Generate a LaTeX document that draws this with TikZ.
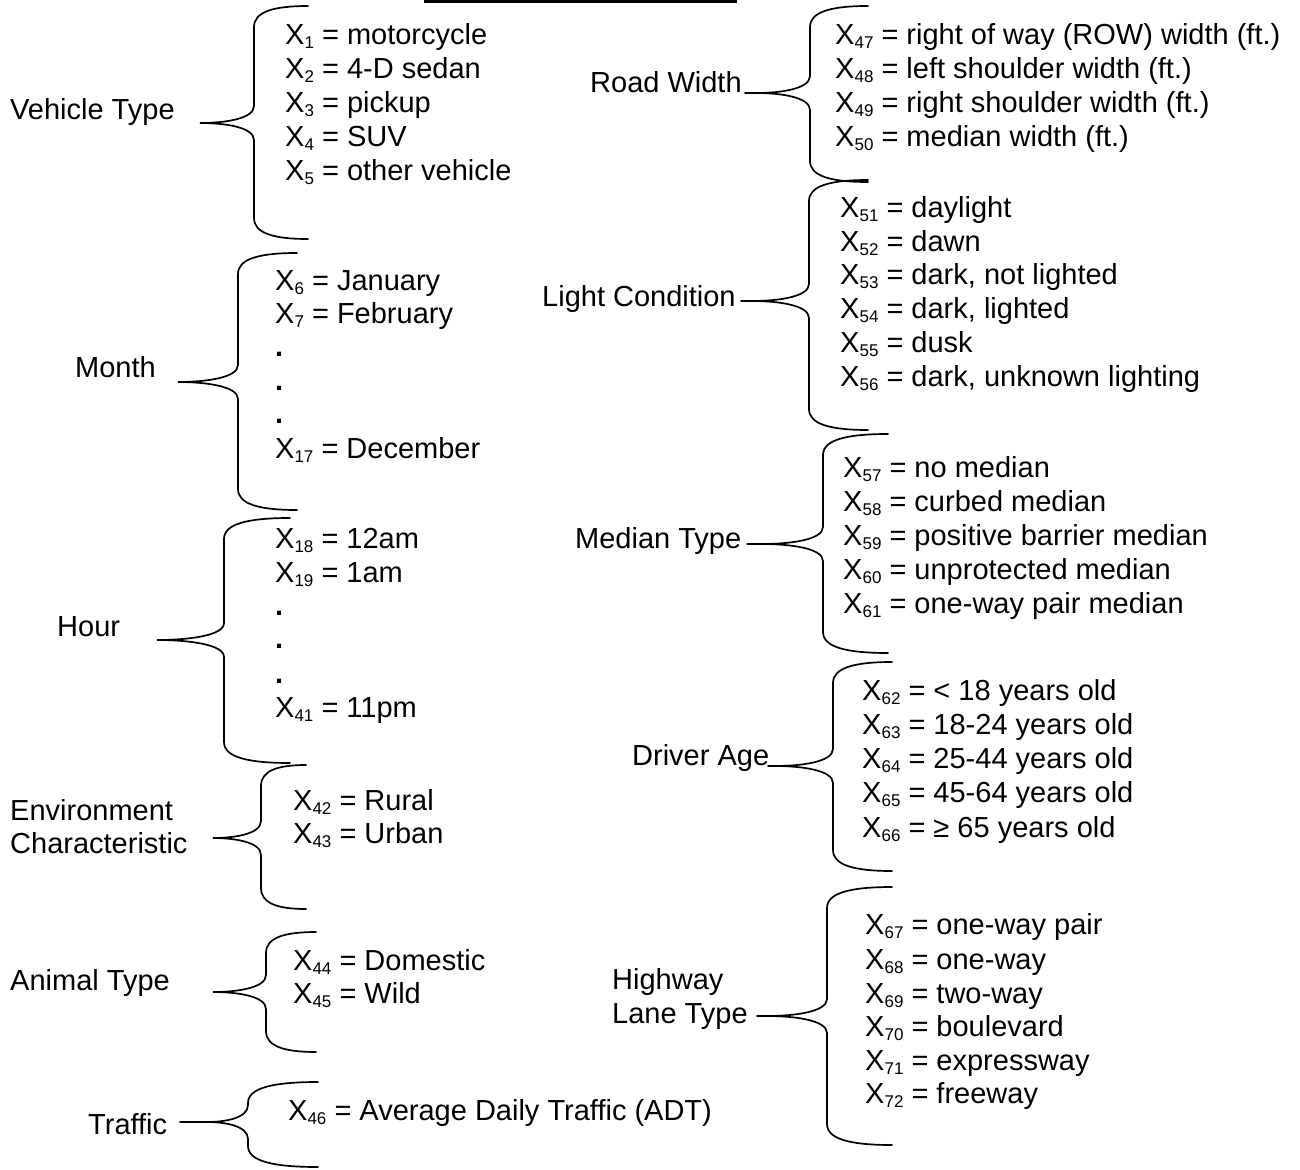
\documentclass[tikz,border=0pt]{standalone}
\usepackage{fontspec}
\setmainfont{Liberation Sans}
\newcommand\sbs[1]{\raisebox{-4pt}{\fontsize{17}{17}\selectfont #1}}
\newcommand\mybrace[7]{% tip x, mid y, vertical x, top y, bottom y, end x, name
  \coordinate (#7) at (#1,#2);
  \draw[brc] (#6,#4) .. controls ({#3+0.35*(#6-#3)},#4) and (#3,#4+6) .. (#3,#4+21)
    -- (#3,#2-17) .. controls (#3,#2-4) and ({#1+0.45*(#3-#1)},#2) .. (#7)
    .. controls ({#1+0.45*(#3-#1)},#2) and (#3,#2+4) .. (#3,#2+17)
    -- (#3,#5-21) .. controls (#3,#5-6) and ({#3+0.35*(#6-#3)},#5) .. (#6,#5);}
\tikzset{
  brc/.style={line width=1.7pt, line cap=round},
  itm/.style={anchor=base west, inner sep=0pt, font=\fontsize{29}{34}\selectfont},
  lab/.style={anchor=base west, inner sep=0pt, font=\fontsize{29}{34}\selectfont},
}
\begin{document}
\begin{tikzpicture}[x=1pt,y=-1pt]
\fill[white] (0,0) rectangle (1300,1169);
\useasboundingbox (0,0) rectangle (1300,1169);
% top rule
\coordinate (ra) at (424,1.5);
\coordinate (rb) at (737,1.5);
\draw[line width=3.2pt] (ra) -- (rb);

% ---------- left column ----------
\node[lab] (vt) at (10,120) {Vehicle Type};
\mybrace{200}{123}{254}{6}{239}{308}{vttip}
\node[itm] (x1) at (285,45) {X\sbs{1} = motorcycle};
\node[itm] (x2) at (285,79) {X\sbs{2} = 4-D sedan};
\node[itm] (x3) at (285,113) {X\sbs{3} = pickup};
\node[itm] (x4) at (285,147) {X\sbs{4} = SUV};
\node[itm] (x5) at (285,181) {X\sbs{5} = other vehicle};

\node[lab] (mo) at (75,377) {Month};
\mybrace{178}{382}{238}{253}{510}{297}{motip}
\node[itm] (x6) at (275,290) {X\sbs{6} = January};
\node[itm] (x7) at (275,323) {X\sbs{7} = February};
\node[itm] (md1) at (275,356) {\textbf{.}};
\node[itm] (md2) at (275,390) {\textbf{.}};
\node[itm] (md3) at (275,423) {\textbf{.}};
\node[itm] (x17) at (275,458) {X\sbs{17} = December};

\node[lab] (ho) at (57,636) {Hour};
\mybrace{157}{640}{224}{518}{763}{290}{hotip}
\node[itm] (x18) at (275,548) {X\sbs{18} = 12am};
\node[itm] (x19) at (275,582) {X\sbs{19} = 1am};
\node[itm] (hd1) at (275,615) {\textbf{.}};
\node[itm] (hd2) at (275,648) {\textbf{.}};
\node[itm] (hd3) at (275,683) {\textbf{.}};
\node[itm] (x41) at (275,717) {X\sbs{41} = 11pm};

\node[lab] (ec1) at (10,820) {Environment};
\node[lab] (ec2) at (10,853) {Characteristic};
\mybrace{213}{838}{261}{765}{909}{306}{ectip}
\node[itm] (x42) at (293,810) {X\sbs{42} = Rural};
\node[itm] (x43) at (293,843) {X\sbs{43} = Urban};

\node[lab] (at) at (10,990) {Animal Type};
\mybrace{213}{992}{266}{932}{1052}{316}{attip}
\node[itm] (x44) at (293,970) {X\sbs{44} = Domestic};
\node[itm] (x45) at (293,1003) {X\sbs{45} = Wild};

\node[lab] (tr) at (88,1134) {Traffic};
\mybrace{207}{1122}{248}{1082}{1167}{318}{trtip}
\coordinate (trt) at (180,1122);
\draw[brc] (trt) -- (trtip);
\node[itm] (x46) at (288,1120) {X\sbs{46} = Average Daily Traffic (ADT)};

% ---------- right column ----------
\node[lab] (rw) at (590,93) {Road Width};
\mybrace{756}{93}{810}{6}{182}{868}{rwtip}
\coordinate (rwt) at (745,93);
\draw[brc] (rwt) -- (rwtip);
\node[itm] (x47) at (835,45) {X\sbs{47} = right of way (ROW) width (ft.)};
\node[itm] (x48) at (835,79) {X\sbs{48} = left shoulder width (ft.)};
\node[itm] (x49) at (835,113) {X\sbs{49} = right shoulder width (ft.)};
\node[itm] (x50) at (835,147) {X\sbs{50} = median width (ft.)};

\node[lab] (lc) at (542,306) {Light Condition};
\mybrace{752}{301}{809}{180}{430}{868}{lctip}
\coordinate (lct) at (741,301);
\draw[brc] (lct) -- (lctip);
\node[itm] (x51) at (840,217) {X\sbs{51} = daylight};
\node[itm] (x52) at (840,251) {X\sbs{52} = dawn};
\node[itm] (x53) at (840,284) {X\sbs{53} = dark, not lighted};
\node[itm] (x54) at (840,318) {X\sbs{54} = dark, lighted};
\node[itm] (x55) at (840,352) {X\sbs{55} = dusk};
\node[itm] (x56) at (840,386) {X\sbs{56} = dark, unknown lighting};

\node[lab] (mt) at (575,548) {Median Type};
\mybrace{762}{544}{823}{434}{653}{888}{mttip}
\coordinate (mtt) at (747,544);
\draw[brc] (mtt) -- (mttip);
\node[itm] (x57) at (843,477) {X\sbs{57} = no median};
\node[itm] (x58) at (843,511) {X\sbs{58} = curbed median};
\node[itm] (x59) at (843,545) {X\sbs{59} = positive barrier median};
\node[itm] (x60) at (843,579) {X\sbs{60} = unprotected median};
\node[itm] (x61) at (843,613) {X\sbs{61} = one-way pair median};

\node[lab] (da) at (632,765) {Driver Age};
\mybrace{775}{766}{833}{662}{871}{892}{datip}
\coordinate (dat) at (768,766);
\draw[brc] (dat) -- (datip);
\node[itm] (x62) at (862,700) {X\sbs{62} = < 18 years old};
\node[itm] (x63) at (862,734) {X\sbs{63} = 18-24 years old};
\node[itm] (x64) at (862,768) {X\sbs{64} = 25-44 years old};
\node[itm] (x65) at (862,802) {X\sbs{65} = 45-64 years old};
\node[itm] (x66) at (862,837) {X\sbs{66} = ≥ 65 years old};

\node[lab] (hl1) at (612,989) {Highway};
\node[lab] (hl2) at (612,1023) {Lane Type};
\mybrace{767}{1016}{827}{887}{1145}{892}{hltip}
\coordinate (hlt) at (757,1016);
\draw[brc] (hlt) -- (hltip);
\node[itm] (x67) at (865,934) {X\sbs{67} = one-way pair};
\node[itm] (x68) at (865,969) {X\sbs{68} = one-way};
\node[itm] (x69) at (865,1003) {X\sbs{69} = two-way};
\node[itm] (x70) at (865,1036) {X\sbs{70} = boulevard};
\node[itm] (x71) at (865,1070) {X\sbs{71} = expressway};
\node[itm] (x72) at (865,1103) {X\sbs{72} = freeway};
\end{tikzpicture}
\end{document}
